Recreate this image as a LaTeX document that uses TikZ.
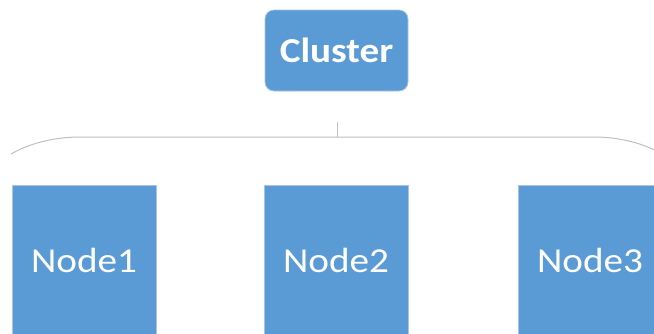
\documentclass[tikz,border=0pt]{standalone}
\usepackage{fontspec}
\usepackage{graphicx}
\setmainfont{Carlito}
\definecolor{boxblue}{HTML}{5B9BD5}
\definecolor{boxedge}{HTML}{A9C4E0}
\definecolor{linkgray}{HTML}{BFBFBF}
\newcommand{\widetext}[1]{\scalebox{1.12}[1]{#1}}
\begin{document}
\begin{tikzpicture}[x=1pt,y=-1pt,
  box/.style={fill=boxblue, draw=boxedge, line width=0.8pt, text=white, inner sep=0pt},
  member/.style={box, minimum width=144pt, minimum height=200pt},
  label/.style={text=white, font=\fontsize{35}{38}\selectfont},
  link/.style={draw=linkgray, line width=1pt}]
\useasboundingbox (0,0) rectangle (654,333);
\clip (0,0) rectangle (654,333);
% top-level cluster box
\node[box, rounded corners=9pt, minimum width=143pt, minimum height=81pt,
      font=\fontsize{35}{38}\selectfont\bfseries] (cluster) at (336.5,50.5) {\widetext{Cluster}};
% member boxes, running off the lower edge
\node[member] (n1) at (84,285) {};
\node[member] (n2) at (336,285) {};
\node[member] (n3) at (590,285) {};
\node[label] (t1) at (84,260) {\widetext{Node1}};
\node[label] (t2) at (336,260) {\widetext{Node2}};
\node[label] (t3) at (590,260) {\widetext{Node3}};
% bracket joining the cluster to its members
\coordinate (tick) at (337,122);
\coordinate (join) at (337,137);
\draw[link] (tick) -- (join);
\draw[link] (11,154) .. controls (30,143) and (55,137) .. (80,137)
  -- (595,137) .. controls (620,137) and (645,144) .. (660,153);
\end{tikzpicture}
\end{document}
